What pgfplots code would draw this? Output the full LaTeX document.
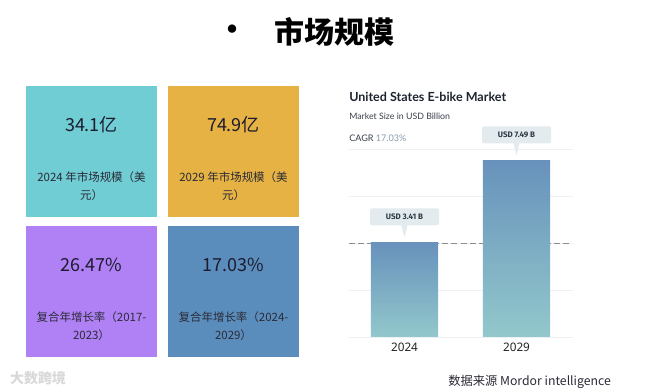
\documentclass[border=0pt]{standalone}
\usepackage{fontspec}
\usepackage{pgfplots}
\pgfplotsset{compat=1.18}
\usetikzlibrary{shapes.callouts}
\newfontfamily\cjk{Noto Sans CJK SC}
\newfontfamily\lato{Lato}
\newfontfamily\noto{Noto Sans}
\newfontfamily\fira{Fira Sans}
\definecolor{cTeal}{HTML}{6FCDD3}
\definecolor{cOrange}{HTML}{E6B243}
\definecolor{cPurple}{HTML}{B080F5}
\definecolor{cBlue}{HTML}{5B8DBC}
\definecolor{cNum}{HTML}{1C1C2E}
\definecolor{cLab}{HTML}{2B2B38}
\definecolor{cHead}{HTML}{1E2430}
\definecolor{cSub}{HTML}{3A404A}
\definecolor{cCagr}{HTML}{8A9BB2}
\definecolor{cGrid}{HTML}{EEF1F4}
\definecolor{cDash}{HTML}{8A8E94}
\definecolor{cBarTop}{HTML}{6892BC}
\definecolor{cBarBot}{HTML}{92C8CB}
\definecolor{cCall}{HTML}{E3EBEF}
\definecolor{cCallText}{HTML}{2D3B48}
\definecolor{cTick}{HTML}{222222}
\begin{document}
\begin{tikzpicture}[x=0.75pt,y=0.75pt]
\fill[white] (0,0) rectangle (650,392);
% title
\node[font=\cjk\bfseries\fontsize{22.5}{24}\selectfont] at (334,360) {市场规模};
\node[font=\cjk\bfseries\fontsize{22.5}{24}\selectfont] at (232,359) {•};
% boxes
\fill[cTeal] (26,175) rectangle (157,306);
\fill[cOrange] (168,175) rectangle (299,306);
\fill[cPurple] (26,35) rectangle (157,166);
\fill[cBlue] (168,35) rectangle (299,166);
\tikzset{big/.style={font=\cjk\fontsize{13.5}{16}\selectfont, text=cNum},
         lab/.style={font=\cjk\fontsize{8.6}{10}\selectfont, text=cLab}}
\node[big] at (91.5,267) {34.1亿};
\node[lab] at (91.5,215) {2024 年市场规模（美};
\node[lab] at (91.5,197) {元）};
\node[big] at (233.5,267) {74.9亿};
\node[lab] at (233.5,215) {2029 年市场规模（美};
\node[lab] at (233.5,197) {元）};
\node[big] at (91.5,127) {26.47\%};
\node[lab] at (91.5,75) {复合年增长率（2017-};
\node[lab] at (91.5,57) {2023）};
\node[big] at (233.5,127) {17.03\%};
\node[lab] at (233.5,75) {复合年增长率（2024-};
\node[lab] at (233.5,57) {2029）};
% watermark
\node[font=\cjk\bfseries\fontsize{10.5}{12}\selectfont, text=gray!30] at (38,14) {大数跨境};
% chart header
\node[anchor=base west, inner sep=0pt, font=\lato\bfseries\fontsize{9.4}{11}\selectfont, text=cHead] at (349,290) {United States E-bike Market};
\node[anchor=base west, inner sep=0pt, font=\lato\fontsize{6.6}{8}\selectfont, text=cSub] at (349,272) {Market Size in USD Billion};
\node[anchor=base west, inner sep=0pt, font=\lato\fontsize{6.8}{8}\selectfont, text=cSub] at (349,250) {CAGR \textcolor{cCagr}{17.03\%}};
% source
\node[anchor=base west, inner sep=0pt, font=\cjk\fontsize{9.2}{11}\selectfont, text=cLab] at (448,6) {数据来源 Mordor intelligence};
\begin{axis}[at={(261.375pt,41.25pt)}, anchor=south west, scale only axis,
  width=168pt, height=141pt,
  xmin=-0.5, xmax=1.5, ymin=0, ymax=9.354,
  axis line style={draw=none}, tick style={draw=none}, major tick length=0pt,
  ytick={0,2.3385,4.677,7.0155,9.354}, yticklabels={},
  ymajorgrids, grid style={draw=cGrid, line width=0.6pt},
  xtick={0,1}, xticklabels={2024,2029},
  xticklabel style={font=\noto\fontsize{8.8}{10}\selectfont, text=cTick, anchor=center, yshift=-7.5pt},
  y filter/.expression={y+1.267},
  clip=false,
  every axis plot/.append style={forget plot},
  barstyle/.style={ybar, bar width=0.6, bar shift=0pt, draw=none, top color=cBarTop, bottom color=cBarBot,
    nodes near coords, point meta=explicit symbolic,
    nodes near coords style={rectangle callout, fill=cCall, rounded corners=1.5pt,
      minimum width=51.75pt, minimum height=12.75pt, inner sep=0pt,
      callout relative pointer={(0pt,-9.4pt)}, callout pointer width=4.5pt,
      anchor=pointer, yshift=3pt, font=\fira\bfseries\fontsize{6}{7}\selectfont, text=cCallText}}]
\addplot[draw=cDash, dash pattern=on 4.5pt off 2.5pt, line width=0.6pt] coordinates {(-0.5,3.41) (1.5,3.41)};
\addplot[barstyle] coordinates {(0,3.41) [USD 3.41 B]};
\addplot[barstyle] coordinates {(1,7.49) [USD 7.49 B]};
\end{axis}
\end{tikzpicture}
\end{document}
